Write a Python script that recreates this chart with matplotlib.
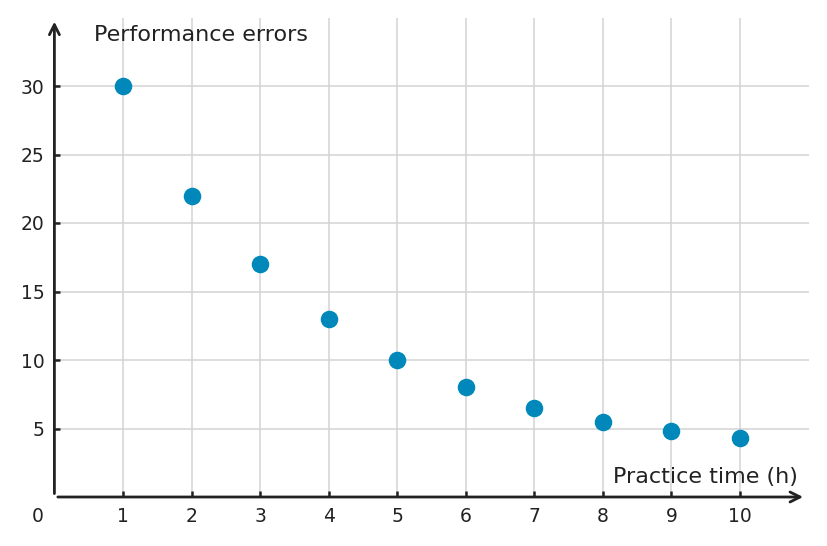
import matplotlib
matplotlib.use("Agg")
import matplotlib.pyplot as plt

practice_hours = [1, 2, 3, 4, 5, 6, 7, 8, 9, 10]
errors = [30, 22, 17, 13, 10, 8, 6.5, 5.5, 4.8, 4.3]
x_ticks = [1, 2, 3, 4, 5, 6, 7, 8, 9, 10]
y_ticks = [5, 10, 15, 20, 25, 30]

ink = "#222222"
dot = "#0088bb"

fig = plt.figure(figsize=(8.27, 5.46), dpi=100)
ax = fig.add_axes([54.4 / 827, 49 / 546, (808.6 - 54.4) / 827, (497 - 17.5) / 546])
ax.set_xlim(0, 11)
ax.set_ylim(0, 35)

ax.grid(True, color="#d3d3d3", lw=1.1)
ax.set_axisbelow(True)
for s in ax.spines.values():
    s.set_visible(False)

ax.set_xticks(x_ticks)
ax.set_yticks(y_ticks)
ax.tick_params(direction="in", length=4, width=1.8, color=ink,
               labelcolor=ink, labelsize=13.5, pad=7)

ax.scatter(practice_hours, errors, s=135, color=dot, zorder=3, clip_on=False)

arrow = dict(arrowstyle="->", lw=2, color=ink, shrinkA=0, shrinkB=0,
             mutation_scale=18)
ax.annotate("", xy=(0, 34.7), xytext=(0, 0.25), arrowprops=arrow,
            annotation_clip=False)
ax.annotate("", xy=(10.92, 0), xytext=(0.05, 0), arrowprops=arrow,
            annotation_clip=False)

ax.text(0.58, 33.7, "Performance errors", fontsize=16, color=ink,
        ha="left", va="center")
ax.text(10.85, 1.45, "Practice time (h)", fontsize=16, color=ink,
        ha="right", va="center")
ax.text(-0.25, -1.4, "0", fontsize=13.5, color=ink, ha="center", va="center")

fig.savefig("out.png", dpi=100)
